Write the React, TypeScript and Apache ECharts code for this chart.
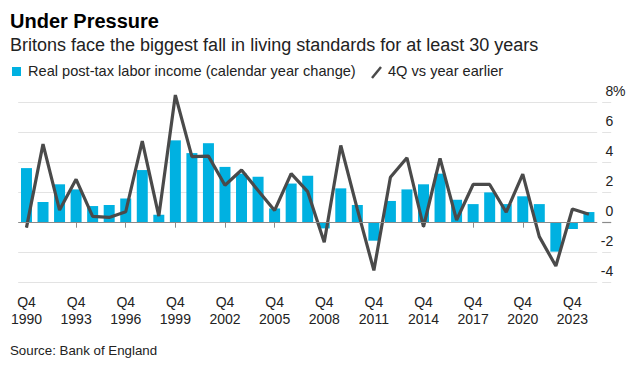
import React, { useEffect, useRef } from "react";
import * as echarts from "echarts";

const years = [
  "1990", "1991", "1992", "1993", "1994", "1995", "1996", "1997", "1998", "1999",
  "2000", "2001", "2002", "2003", "2004", "2005", "2006", "2007", "2008", "2009",
  "2010", "2011", "2012", "2013", "2014", "2015", "2016", "2017", "2018", "2019",
  "2020", "2021", "2022", "2023", "2024",
];

// Real post-tax labor income (calendar year change), %
const incomeChange = [
  3.64, 1.38, 2.56, 2.22, 1.11, 1.18, 1.62, 3.51, 0.53, 5.49,
  4.64, 5.3, 3.72, 3.27, 3.07, 0.95, 2.61, 3.13, -0.38, 2.29,
  1.18, -1.2, 1.45, 2.22, 2.56, 3.27, 1.53, 1.24, 2.02, 1.24,
  1.76, 1.24, -1.93, -0.42, 0.71,
];

// 4Q vs year earlier, %
const q4Change = [
  -0.33, 5.24, 0.84, 2.89, 0.42, 0.35, 0.73, 5.44, 0.44, 8.51,
  4.4, 4.44, 2.5, 3.51, 2.15, 0.82, 3.27, 2.07, -1.31, 5.15,
  0.9, -3.18, 3.03, 4.33, -0.27, 4.29, 0.18, 2.55, 2.55, 0.7,
  3.24, -0.93, -2.89, 0.91, 0.56,
];

const yTicks = [-4, -2, 0, 2, 4, 6, 8];

const FONT = "'Liberation Sans', Arial, Helvetica, sans-serif";
const BAR = "#00b1e1";
const LINE = "#4a4a4a";

export default function App() {
  const ref = useRef<HTMLDivElement>(null);

  useEffect(() => {
    if (!ref.current) return;
    const chart = echarts.init(ref.current, null, { renderer: "svg" });
    const yMin = yTicks[0];
    const yMax = yTicks[yTicks.length - 1];
    const option: any = {
      animation: false,
      backgroundColor: "#ffffff",
      textStyle: { fontFamily: FONT },
      grid: { left: 18.2, top: 102.7, width: 579, height: 180, containLabel: false },
      xAxis: {
        type: "category",
        data: years,
        boundaryGap: true,
        axisLine: { show: false },
        axisTick: {
          show: true,
          interval: 2,
          alignWithLabel: true,
          length: 5,
          lineStyle: { color: "#8a8a8a", width: 1 },
        },
        axisLabel: {
          interval: 2,
          margin: 11,
          formatter: (v: string) => "Q4\n" + v,
          fontFamily: FONT,
          fontSize: 14,
          lineHeight: 17,
          color: "#222",
        },
        splitLine: { show: false },
      },
      yAxis: [
        {
          type: "value",
          position: "right",
          min: yMin,
          max: yMax,
          interval: 2,
          axisLine: { show: false },
          axisTick: { show: false },
          axisLabel: {
            show: true,
            margin: 16,
            align: "right",
            verticalAlign: "bottom",
            padding: [0, 0, 5, 0],
            fontFamily: FONT,
            fontSize: 14,
            color: "#222",
            formatter: (v: number) => String(v),
          },
          splitLine: { show: true, lineStyle: { color: "#e3e3e3", width: 1 } },
        },
        {
          type: "value",
          position: "right",
          offset: 5,
          min: yMin,
          max: yMax,
          interval: 2,
          axisLine: { show: false },
          axisTick: { show: true, length: 9, lineStyle: { color: "#e3e3e3", width: 1 } },
          axisLabel: { show: false },
          splitLine: { show: false },
        },
        {
          type: "value",
          position: "right",
          offset: 5,
          min: yMin,
          max: yMax,
          interval: 2,
          axisLine: { show: false },
          axisTick: { show: true, length: 9, customValues: [0], lineStyle: { color: "#8a8a8a", width: 1.2 } },
          axisLabel: { show: false },
          splitLine: { show: false },
        },
      ],
      series: [
        {
          type: "bar",
          name: "Real post-tax labor income (calendar year change)",
          data: incomeChange,
          barWidth: 11,
          itemStyle: { color: BAR },
          markLine: {
            silent: true,
            symbol: ["none", "none"],
            label: { show: false },
            lineStyle: { color: "#8a8a8a", type: "solid", width: 1.2 },
            data: [{ yAxis: 0 }],
          },
        },
        {
          type: "line",
          name: "4Q vs year earlier",
          data: q4Change,
          clip: false,
          symbol: "none",
          lineStyle: { color: LINE, width: 3.2 },
          itemStyle: { color: LINE },
        },
      ],
      graphic: [
        {
          type: "text",
          left: 10,
          top: 11,
          style: { text: "Under Pressure", font: "bold 20px " + FONT, fill: "#000" },
        },
        {
          type: "text",
          left: 10,
          top: 36,
          style: {
            text: "Britons face the biggest fall in living standards for at least 30 years",
            font: "18px " + FONT,
            fill: "#222",
          },
        },
        {
          type: "rect",
          left: 12,
          top: 67,
          shape: { width: 9, height: 9 },
          style: { fill: BAR },
        },
        {
          type: "text",
          left: 28,
          top: 63.5,
          style: {
            text: "Real post-tax labor income (calendar year change)",
            font: "14.6px " + FONT,
            fill: "#222",
          },
        },
        {
          type: "line",
          shape: { x1: 372, y1: 78, x2: 381, y2: 67 },
          style: { stroke: LINE, lineWidth: 2.5 },
        },
        {
          type: "text",
          left: 388,
          top: 63.5,
          style: { text: "4Q vs year earlier", font: "14.6px " + FONT, fill: "#222" },
        },
        {
          type: "text",
          left: 613,
          top: 83.5,
          style: { text: "%", font: "14px " + FONT, fill: "#222" },
        },
        {
          type: "text",
          left: 10,
          top: 344,
          style: { text: "Source: Bank of England", font: "13.3px " + FONT, fill: "#222" },
        },
      ],
    };
    chart.setOption(option);
    return () => chart.dispose();
  }, []);

  return (
    <div
      ref={ref}
      style={{ position: "fixed", left: 0, top: 0, width: 634, height: 370, background: "#fff" }}
    />
  );
}
